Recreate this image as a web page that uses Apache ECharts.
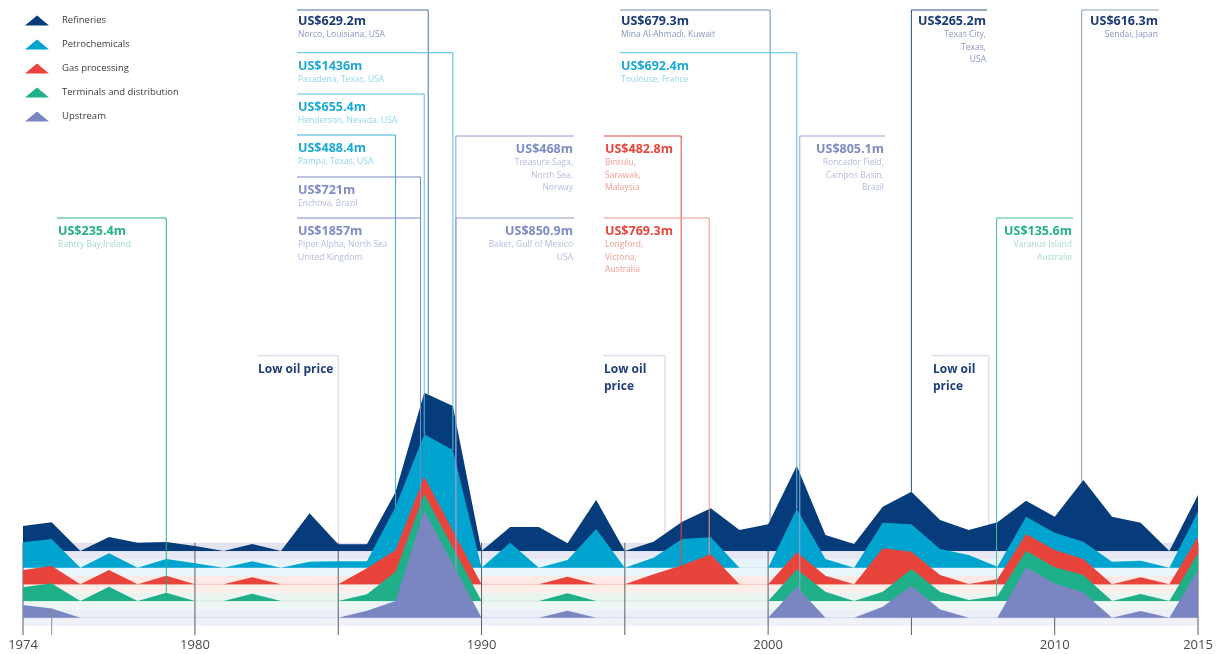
<!DOCTYPE html>
<html>
<head>
<meta charset="utf-8">
<title>Largest losses by sector, 1974-2015</title>
<script src="https://cdn.jsdelivr.net/npm/echarts@6/dist/echarts.min.js"></script>
<style>
  html, body { margin: 0; padding: 0; background: #fff; }
  #chart { width: 1217px; height: 654px; }
</style>
</head>
<body>
<div id="chart"></div>
<script>
// heights of each sector above its own baseline
const years = [1974, 1975, 1976, 1977, 1978, 1979, 1980, 1981, 1982, 1983, 1984, 1985, 1986, 1987,
  1988, 1989, 1990, 1991, 1992, 1993, 1994, 1995, 1996, 1997, 1998, 1999, 2000, 2001, 2002, 2003,
  2004, 2005, 2006, 2007, 2008, 2009, 2010, 2011, 2012, 2013, 2014, 2015];
const refineries = [25, 28.7, 0, 14, 8.3, 9, 5, 0, 7, 0, 37.7, 6.7, 6.7, 59, 158.3, 145, 0, 24, 24, 7.7, 51,
  0, 9.3, 29.3, 42.7, 21, 26.7, 85.3, 16, 7, 44.3, 59.3, 31, 21, 28.7, 50.3, 34.3, 71, 34.3, 28.3, 0, 56];
const petrochemicals = [25.3, 28.7, 0, 14.3, 0, 8.7, 4.5, 0, 6.5, 0, 6, 6.3, 6.3, 61, 133.3, 117.7, 0, 25, 0,
  7.7, 38.7, 0, 10, 28.7, 30.3, 0, 0, 58.7, 8.7, 0, 45, 43.3, 18.7, 12.7, 1, 51, 35, 26, 6, 7, 0, 56];
const gasProcessing = [14.3, 18.3, 0, 14.3, 0, 8.7, 0, 0, 7, 0, 0, 0, 16, 34.3, 107.7, 53.5, 0, 0, 0, 7.7,
  0, 0, 10, 19, 30, 0, 0, 32, 8.7, 0, 36, 32.7, 9.3, 0.3, 5, 50.3, 34.3, 25.3, 0, 7, 0, 47.7];
const terminals = [13.7, 17.7, 0, 14.3, 0, 8.3, 0, 0, 7.3, 0, 0, 0, 6.7, 29.3, 107, 53.5, 0, 0, 0, 7.7,
  0, 0, 0, 0, 0, 0, 0, 31.7, 9.3, 0, 9.3, 32, 9.3, 1, 5, 50.3, 33.7, 26, 0, 7, 0, 47.7];
const upstream = [12.7, 9.3, 0, 0, 0, 0, 0, 0, 0, 0, 0, 0, 7, 16.7, 107, 53.5, 0, 0, 0, 7,
  0, 0, 0, 0, 0, 0, 0, 31, 0, 0, 11, 32, 8.3, 0, 0, 50.3, 34.3, 25.3, 0, 6.7, 0, 48.3];

const tickYears = [1974, 1980, 1985, 1990, 1995, 2000, 2005, 2010, 2015];
const labelYears = [1974, 1980, 1990, 2000, 2010, 2015];

// the big single losses
const losses = [
  { year: 1979, layer: "Terminals and distribution", amount: "US$235.4m", place: ["Bantry Bay,Ireland"] },
  { year: 1988, layer: "Refineries", amount: "US$629.2m", place: ["Norco, Louisiana, USA"] },
  { year: 1989, layer: "Petrochemicals", amount: "US$1436m", place: ["Pasadena, Texas, USA"] },
  { year: 1988, layer: "Petrochemicals", amount: "US$655.4m", place: ["Henderson, Nevada, USA"] },
  { year: 1987, layer: "Petrochemicals", amount: "US$488.4m", place: ["Pampa, Texas, USA"] },
  { year: 1988, layer: "Upstream", amount: "US$721m", place: ["Enchova, Brazil"] },
  { year: 1988, layer: "Upstream", amount: "US$1857m", place: ["Piper Alpha, North Sea", "United Kingdom"] },
  { year: 1989, layer: "Upstream", amount: "US$468m", place: ["Treasure Saga,", "North Sea,", "Norway"] },
  { year: 1989, layer: "Upstream", amount: "US$850.9m", place: ["Baker, Gulf of Mexico", "USA"] },
  { year: 1997, layer: "Gas processing", amount: "US$482.8m", place: ["Bintulu,", "Sarawak,", "Malaysia"] },
  { year: 1998, layer: "Gas processing", amount: "US$769.3m", place: ["Longford,", "Victoria,", "Australia"] },
  { year: 2000, layer: "Refineries", amount: "US$679.3m", place: ["Mina Al-Ahmadi, Kuwait"] },
  { year: 2001, layer: "Petrochemicals", amount: "US$692.4m", place: ["Toulouse, France"] },
  { year: 2001, layer: "Upstream", amount: "US$805.1m", place: ["Roncador Field,", "Campos Basin,", "Brazil"] },
  { year: 2005, layer: "Refineries", amount: "US$265.2m", place: ["Texas City,", "Texas,", "USA"] },
  { year: 2008, layer: "Terminals and distribution", amount: "US$135.6m", place: ["Varanus Island", "Australia"] },
  { year: 2011, layer: "Refineries", amount: "US$616.3m", place: ["Sendai, Japan"] },
];
const lowOil = [
  { year: 1985, text: "Low oil price" },
  { year: 1996.4, text: "Low oil\nprice" },
  { year: 2007.7, text: "Low oil\nprice" },
];

// ---- layout / styles ----
const FONT = '"Open Sans", "Noto Sans", sans-serif';
const layers = [
  { name: "Refineries", data: refineries, color: "#063c7b", band: ["#e2e3ef", "#e7e8f3"], rule: "#d5d7e9", ink: ["#1b3a78", "#8c95c3"] },
  { name: "Petrochemicals", data: petrochemicals, color: "#00a4cf", band: ["#e6f4fa", "#eaf6fb"], rule: "#cde9f5", ink: ["#1da9d6", "#94d6ec"] },
  { name: "Gas processing", data: gasProcessing, color: "#e8443b", band: ["#fdeae6", "#fdeee9"], rule: "#f6c2ba", ink: ["#e8453b", "#f39c92"] },
  { name: "Terminals and distribution", data: terminals, color: "#1fb08a", band: ["#eaf5f0", "#eef7f3"], rule: "#d2eae0", ink: ["#25b189", "#a5dcc9"] },
  { name: "Upstream", data: upstream, color: "#7a86c2", band: ["#eceef8", "#f0f1f9"], rule: "#d6daee", ink: ["#7f8bc6", "#b5bcdf"] },
];
const base = i => 75 - i * 16.67;
const half = 8.33;

// where each loss label sits: y of its rule, side of the text, x of the far end
const lossLayout = [
  { top: 218, side: "left", edge: 57, dx: 0, line: "#2bb38a" },
  { top: 10, side: "left", edge: 297, dx: 4, line: "#4c6ea5" },
  { top: 52.7, side: "left", edge: 297, dx: 0, line: "#4cc0e2" },
  { top: 94, side: "left", edge: 297, dx: 0, line: "#4cc0e2" },
  { top: 135, side: "left", edge: 297, dx: 0, line: "#36b1d8" },
  { top: 177, side: "left", edge: 297, dx: -3.7, line: "#7b88c6" },
  { top: 218, side: "left", edge: 297, dx: -3.7, line: "#7b88c6" },
  { top: 136, side: "right", edge: 574, dx: 3, line: "#8e9ad0" },
  { top: 218, side: "right", edge: 574, dx: 3, line: "#8e9ad0" },
  { top: 136, side: "left", edge: 604, dx: -1, line: "#e54a3f" },
  { top: 218, side: "left", edge: 604, dx: -1.6, line: "#f4968c" },
  { top: 10, side: "left", edge: 620, dx: 2, line: "#6f8cbb" },
  { top: 52.7, side: "left", edge: 620, dx: 0, line: "#55c3e2" },
  { top: 136, side: "right", edge: 885, dx: 3, line: "#9aa5d8" },
  { top: 10, side: "right", edge: 987, dx: 0, line: "#2f4f8f" },
  { top: 218, side: "right", edge: 1073, dx: -0.8, line: "#3fc09c" },
  { top: 10, side: "right", edge: 1159, dx: -1.7, line: "#8da2c4" },
];
const lowOilLayout = [{ left: 257 }, { left: 603 }, { left: 932 }];

function valueAt(arr, yr) {
  const i = Math.max(0, Math.min(Math.floor(yr - years[0]), years.length - 2));
  const t = (yr - years[i]) / (years[i + 1] - years[i]);
  return arr[i] + (arr[i + 1] - arr[i]) * t;
}

const chart = echarts.init(document.getElementById("chart"));

const areaSeries = layers.map((l, i) => ({
  name: l.name,
  type: "line",
  z: 2,
  silent: true,
  color: l.color,
  itemStyle: { color: l.color },
  symbol: "none",
  lineStyle: { width: 0, opacity: 0 },
  areaStyle: { color: l.color, opacity: 1, origin: base(i) },
  data: years.map((y, k) => [y, base(i) + l.data[k]]),
}));

const option = {
  animation: false,
  grid: { left: 23, right: 19, top: 10, bottom: 28, outerBoundsMode: "none" },
  legend: {
    orient: "vertical",
    left: 20,
    top: 10,
    icon: "triangle",
    itemWidth: 24,
    itemHeight: 10,
    itemGap: 13,
    selectedMode: false,
    textStyle: { fontSize: 9.5, color: "#3b3b3b", fontFamily: FONT, padding: [0, 0, 0, 8], lineHeight: 11 },
    data: layers.map(l => ({ name: l.name, itemStyle: { color: l.color, borderWidth: 0 } })),
  },
  xAxis: {
    type: "value",
    min: 1974,
    max: 2015,
    axisLine: { show: false },
    axisTick: { show: false },
    splitLine: { show: false },
    axisLabel: {
      customValues: labelYears,
      formatter: v => String(v),
      margin: 13,
      fontSize: 13,
      color: "#4a4a4a",
      fontFamily: FONT,
    },
  },
  yAxis: { type: "value", min: 0, max: 616, show: false },
  series: [
    // light bands round each baseline
    {
      type: "custom",
      z: 1,
      silent: true,
      data: layers.map((l, i) => [years[0], i]),
      renderItem(params, api) {
        const i = params.dataIndex;
        const b = base(i);
        const a = api.coord([years[0], b + half]);
        const m = api.coord([years[years.length - 1], b]);
        const c = api.coord([years[years.length - 1], b - half]);
        return {
          type: "group",
          children: [
            { type: "rect", shape: { x: a[0], y: a[1], width: m[0] - a[0], height: m[1] - a[1] }, style: { fill: layers[i].band[0] } },
            { type: "rect", shape: { x: a[0], y: m[1], width: m[0] - a[0], height: c[1] - m[1] }, style: { fill: layers[i].band[1] } },
            { type: "line", shape: { x1: a[0], y1: m[1], x2: m[0], y2: m[1] }, style: { stroke: layers[i].rule, lineWidth: 1 } },
          ],
        };
      },
    },
    // year ticks
    {
      type: "custom",
      z: 1,
      silent: true,
      data: tickYears.map(y => [y, 0]),
      renderItem(params, api) {
        const top = api.coord([api.value(0), base(0) + half]);
        const bot = api.coord([api.value(0), 0]);
        return { type: "line", shape: { x1: top[0], y1: top[1], x2: top[0], y2: bot[1] + 9 }, style: { stroke: "#555d6b", lineWidth: 1 } };
      },
    },
    // low oil price markers
    {
      type: "custom",
      z: 1,
      silent: true,
      data: lowOil.map(d => [d.year, 0]),
      renderItem(params, api) {
        const k = params.dataIndex;
        const o = lowOilLayout[k];
        const p = api.coord([lowOil[k].year, base(0) + half]);
        const top = 355.7;
        return {
          type: "group",
          children: [
            { type: "line", shape: { x1: p[0], y1: top, x2: p[0], y2: p[1] }, style: { stroke: "#d6dce8", lineWidth: 1.2 } },
            { type: "line", shape: { x1: o.left, y1: top, x2: p[0], y2: top }, style: { stroke: "#d6dce8", lineWidth: 1.2 } },
            {
              type: "text",
              style: {
                text: lowOil[k].text, x: o.left + 1, y: 370 - 8.3, align: "left", verticalAlign: "top",
                lineHeight: 16.7, fill: "#1d3c78", fontSize: 12, fontWeight: "bold", fontFamily: FONT,
              },
            },
          ],
        };
      },
    },
    ...areaSeries,
    // faint 1975 tick over the upstream area
    {
      type: "custom",
      z: 3,
      silent: true,
      data: [[1975, 0]],
      renderItem(params, api) {
        const top = api.coord([1975, base(4) + valueAt(upstream, 1975)]);
        const bot = api.coord([1975, 0]);
        return { type: "line", shape: { x1: top[0], y1: top[1], x2: top[0], y2: bot[1] + 9 }, style: { stroke: "#8a929e", lineWidth: 1 } };
      },
    },
    // loss annotations
    {
      type: "custom",
      z: 4,
      silent: true,
      data: losses.map(n => [n.year, 0]),
      renderItem(params, api) {
        const k = params.dataIndex;
        const n = losses[k];
        const o = lossLayout[k];
        const li = layers.findIndex(l => l.name === n.layer);
        const pxYear = api.coord([1975, 0])[0] - api.coord([1974, 0])[0];
        const x = api.coord([n.year, 0])[0] + o.dx;
        const eff = n.year + o.dx / pxYear;
        const yEnd = api.coord([eff, base(li) + valueAt(layers[li].data, eff)])[1];
        const right = o.side === "right";
        const tx = right ? o.edge - 1 : o.edge + 1;
        const vy = o.top + (o.top < 20 ? 11.5 : 13.5);
        const ink = layers[li].ink;
        return {
          type: "group",
          children: [
            { type: "line", shape: { x1: x, y1: o.top, x2: x, y2: yEnd }, style: { stroke: o.line, lineWidth: 1 } },
            { type: "line", shape: { x1: o.edge, y1: o.top, x2: x, y2: o.top }, style: { stroke: o.line, lineWidth: 1 } },
            {
              type: "text",
              style: {
                text: n.amount, x: tx, y: vy, align: right ? "right" : "left", verticalAlign: "middle",
                fill: ink[0], fontSize: 12.5, fontWeight: "bold", fontFamily: FONT,
              },
            },
            {
              type: "text",
              style: {
                text: n.place.join("\n"), x: tx, y: vy + 13.5 - 6.2, align: right ? "right" : "left", verticalAlign: "top",
                lineHeight: 12.4, fill: ink[1], fontSize: 8.5, fontFamily: FONT,
              },
            },
          ],
        };
      },
    },
  ],
};

chart.setOption(option);
</script>
</body>
</html>
